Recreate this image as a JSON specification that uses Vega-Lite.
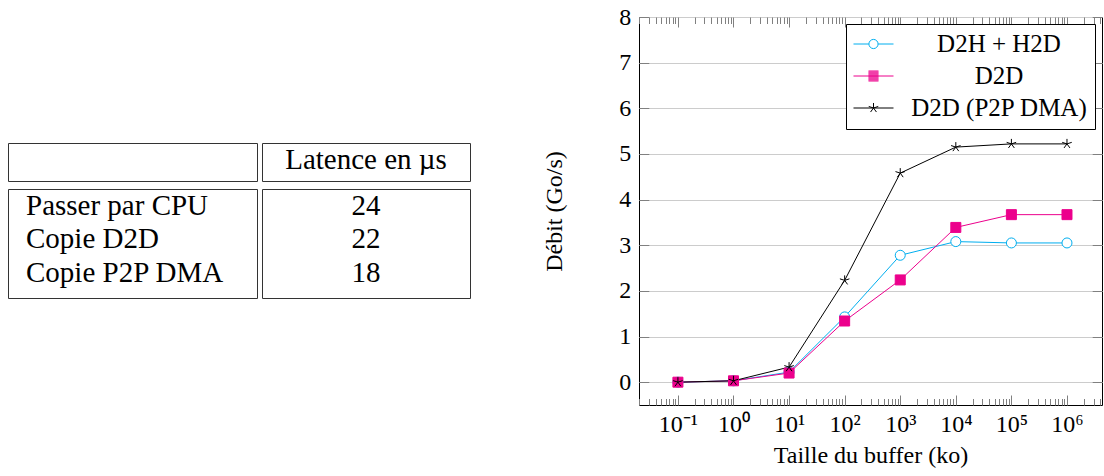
{
  "$schema": "https://vega.github.io/schema/vega-lite/v6.json",
  "background": "white",
  "padding": {"left": 7, "top": 4, "right": 0, "bottom": 0},
  "config": {
    "font": "Liberation Serif",
    "view": {"stroke": null},
    "axis": {"labelColor": "black", "titleColor": "black", "titleFontWeight": "normal", "labelFontSize": 24, "titleFontSize": 24}
  },
  "resolve": {"scale": {"stroke": "independent"}, "legend": {"stroke": "independent"}},
  "datasets": {
    "table": [
      {"methode": "Passer par CPU", "latence": 24},
      {"methode": "Copie D2D", "latence": 22},
      {"methode": "Copie P2P DMA", "latence": 18}
    ],
    "debit": [
      {"serie": "D2H + H2D", "taille": 0.1, "debit": 0.0},
      {"serie": "D2H + H2D", "taille": 1, "debit": 0.03},
      {"serie": "D2H + H2D", "taille": 10, "debit": 0.22},
      {"serie": "D2H + H2D", "taille": 100, "debit": 1.43},
      {"serie": "D2H + H2D", "taille": 1000, "debit": 2.78},
      {"serie": "D2H + H2D", "taille": 10000, "debit": 3.08},
      {"serie": "D2H + H2D", "taille": 100000, "debit": 3.05},
      {"serie": "D2H + H2D", "taille": 1000000, "debit": 3.05},
      {"serie": "D2D", "taille": 0.1, "debit": 0.0},
      {"serie": "D2D", "taille": 1, "debit": 0.03},
      {"serie": "D2D", "taille": 10, "debit": 0.2},
      {"serie": "D2D", "taille": 100, "debit": 1.34},
      {"serie": "D2D", "taille": 1000, "debit": 2.24},
      {"serie": "D2D", "taille": 10000, "debit": 3.39},
      {"serie": "D2D", "taille": 100000, "debit": 3.67},
      {"serie": "D2D", "taille": 1000000, "debit": 3.67},
      {"serie": "D2D (P2P DMA)", "taille": 0.1, "debit": 0.0},
      {"serie": "D2D (P2P DMA)", "taille": 1, "debit": 0.03},
      {"serie": "D2D (P2P DMA)", "taille": 10, "debit": 0.33},
      {"serie": "D2D (P2P DMA)", "taille": 100, "debit": 2.23},
      {"serie": "D2D (P2P DMA)", "taille": 1000, "debit": 4.58},
      {"serie": "D2D (P2P DMA)", "taille": 10000, "debit": 5.15},
      {"serie": "D2D (P2P DMA)", "taille": 100000, "debit": 5.22},
      {"serie": "D2D (P2P DMA)", "taille": 1000000, "debit": 5.22}
    ]
  },
  "spacing": 71,
  "hconcat": [
    {
      "spacing": 6,
      "vconcat": [
        {
          "width": 249, "height": 119,
          "data": {"values": [{"t": ""}]},
          "mark": {"type": "text"},
          "encoding": {"text": {"field": "t"}}
        },
        {
          "spacing": 3,
          "hconcat": [
            {
              "width": 249, "height": 38,
              "view": {"stroke": "#333333", "strokeWidth": 1},
              "data": {"values": [{"t": ""}]},
              "mark": {"type": "text"},
              "encoding": {"text": {"field": "t"}}
            },
            {
              "width": 208, "height": 38,
              "view": {"stroke": "#333333", "strokeWidth": 1},
              "data": {"values": [{"t": "Latence en µs"}]},
              "mark": {"type": "text", "fontSize": 29, "dy": -2, "color": "black"},
              "encoding": {"text": {"field": "t"}}
            }
          ]
        },
        {
          "spacing": 3,
          "hconcat": [
            {
              "width": 249, "height": 109,
              "view": {"stroke": "#333333", "strokeWidth": 1},
              "data": {"name": "table"},
              "mark": {"type": "text", "fontSize": 29, "align": "left", "baseline": "middle", "dx": 18, "color": "black"},
              "encoding": {
                "x": {"datum": 0, "type": "quantitative", "scale": {"domain": [0, 1]}, "axis": null},
                "y": {"field": "methode", "type": "nominal", "sort": null, "axis": null, "scale": {"type": "point", "padding": 0.635, "align": 0.4}},
                "text": {"field": "methode"}
              }
            },
            {
              "width": 208, "height": 109,
              "view": {"stroke": "#333333", "strokeWidth": 1},
              "data": {"name": "table"},
              "mark": {"type": "text", "fontSize": 29, "baseline": "middle", "color": "black"},
              "encoding": {
                "y": {"field": "methode", "type": "nominal", "sort": null, "axis": null, "scale": {"type": "point", "padding": 0.635, "align": 0.4}},
                "text": {"field": "latence"}
              }
            }
          ]
        }
      ]
    },
    {
      "width": 463, "height": 388,
      "view": {"stroke": "black", "strokeWidth": 1},
      "data": {"name": "debit"},
      "resolve": {"axis": {"x": "independent", "y": "independent"}},
      "layer": [
        {
          "mark": {"type": "line", "strokeWidth": 1},
          "encoding": {
            "x": {
              "field": "taille", "type": "quantitative",
              "scale": {"type": "log", "domain": [0.019953, 4265795], "nice": false},
              "title": "Taille du buffer (ko)",
              "axis": {
                "orient": "bottom",
                "values": [0.02,0.03,0.04,0.05,0.06,0.07,0.08,0.09,0.1,0.2,0.3,0.4,0.5,0.6,0.7,0.8,0.9,1,2,3,4,5,6,7,8,9,10,20,30,40,50,60,70,80,90,100,200,300,400,500,600,700,800,900,1000,2000,3000,4000,5000,6000,7000,8000,9000,10000,20000,30000,40000,50000,60000,70000,80000,90000,100000,200000,300000,400000,500000,600000,700000,800000,900000,1000000,2000000,3000000,4000000],
                "tickSize": {"condition": {"test": "abs(log(datum.value)/LN10 - round(log(datum.value)/LN10)) < 0.0001", "value": -10}, "value": -6.5},
                "tickColor": "#808080", "tickWidth": 1,
                "labelExpr": "abs(log(datum.value)/LN10 - round(log(datum.value)/LN10)) < 0.0001 ? '10' + ['⁻¹','⁰','¹','²','³','⁴','⁵','⁶'][round(log(datum.value)/LN10)+1] : ''",
                "labelPadding": 17, "labelOverlap": false, "labelFlush": false, "labelBound": false,
                "domain": false, "grid": false, "titlePadding": 4
              }
            },
            "y": {
              "field": "debit", "type": "quantitative",
              "scale": {"domain": [-0.5, 8], "nice": false, "zero": false},
              "title": "Débit (Go/s)",
              "axis": {
                "orient": "left",
                "values": [0,1,2,3,4,5,6,7,8],
                "tickSize": -9.8, "tickColor": "#808080", "tickWidth": 1,
                "labelPadding": 18,
                "grid": true, "gridColor": "#cccccc", "gridWidth": 1,
                "domain": false, "titlePadding": 52
              }
            },
            "stroke": {
              "field": "serie", "type": "nominal",
              "scale": {"domain": ["D2H + H2D", "D2D", "D2D (P2P DMA)"], "range": ["#00AEEF", "#EC008C", "#000000"]},
              "legend": {
                "orient": "top-right", "offset": 7, "title": null,
                "fillColor": "white", "strokeColor": "black",
                "padding": 7.5, "rowPadding": 6,
                "labelFontSize": 25, "labelColor": "black", "labelAlign": "center", "labelOffset": 113, "labelLimit": 400,
                "labelExpr": "datum.label + ' '",
                "symbolSize": 576, "symbolStrokeWidth": 1, "symbolOpacity": 1, "symbolOffset": 7.5,
                "symbolType": {"expr": "datum.value === 'D2H + H2D' ? 'M-1.667,0H-0.383M0.383,0H1.667M0.383,0A0.383,0.383,0,1,1,-0.383,0A0.383,0.383,0,1,1,0.383,0Z' : datum.value === 'D2D' ? 'M-1.667,0H1.667M-0.417,-0.417H0.417M-0.417,-0.333H0.417M-0.417,-0.25H0.417M-0.417,-0.167H0.417M-0.417,-0.083H0.417M-0.417,0H0.417M-0.417,0.083H0.417M-0.417,0.167H0.417M-0.417,0.25H0.417M-0.417,0.333H0.417M-0.417,0.417H0.417' : 'M-1.667,0H1.667M0,0L0,-0.417M0,0L0.397,-0.129M0,0L0.245,0.337M0,0L-0.245,0.337M0,0L-0.397,-0.129'"}
              }
            }
          }
        },
        {
          "mark": {"type": "point", "filled": true, "size": 100, "strokeWidth": 1, "opacity": 1},
          "encoding": {
            "x": {
              "field": "taille", "type": "quantitative",
              "scale": {"type": "log", "domain": [0.019953, 4265795], "nice": false},
              "title": null,
              "axis": {
                "orient": "top",
                "values": [0.02,0.03,0.04,0.05,0.06,0.07,0.08,0.09,0.1,0.2,0.3,0.4,0.5,0.6,0.7,0.8,0.9,1,2,3,4,5,6,7,8,9,10,20,30,40,50,60,70,80,90,100,200,300,400,500,600,700,800,900,1000,2000,3000,4000,5000,6000,7000,8000,9000,10000,20000,30000,40000,50000,60000,70000,80000,90000,100000,200000,300000,400000,500000,600000,700000,800000,900000,1000000,2000000,3000000,4000000],
                "tickSize": {"condition": {"test": "abs(log(datum.value)/LN10 - round(log(datum.value)/LN10)) < 0.0001", "value": -10}, "value": -6.5},
                "tickColor": "#808080", "tickWidth": 1,
                "labels": false, "domain": false, "grid": false
              }
            },
            "y": {
              "field": "debit", "type": "quantitative",
              "scale": {"domain": [-0.5, 8], "nice": false, "zero": false},
              "title": null,
              "axis": {
                "orient": "right",
                "values": [0,1,2,3,4,5,6,7,8],
                "tickSize": -9.8, "tickColor": "#808080", "tickWidth": 1,
                "labels": false, "domain": false, "grid": false
              }
            },
            "stroke": {"field": "serie", "type": "nominal"},
            "fill": {
              "condition": [
                {"test": "datum.serie === 'D2H + H2D'", "value": "white"},
                {"test": "datum.serie === 'D2D'", "value": "#EC008C"}
              ],
              "value": "transparent"
            },
            "shape": {
              "condition": [
                {"test": "datum.serie === 'D2H + H2D'", "value": "circle"},
                {"test": "datum.serie === 'D2D'", "value": "square"}
              ],
              "value": "M0,0L0,-1M0,0L0.951,-0.309M0,0L0.588,0.809M0,0L-0.588,0.809M0,0L-0.951,-0.309"
            }
          }
        }
      ]
    }
  ]
}
